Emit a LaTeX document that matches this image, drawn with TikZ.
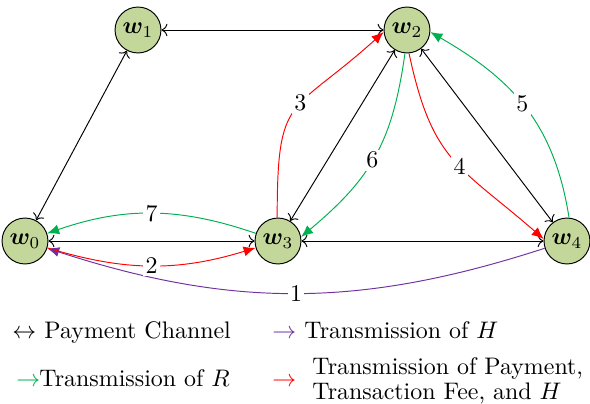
\documentclass[tikz,border=0pt]{standalone}
\usepackage{bm}
\usetikzlibrary{arrows.meta}
\definecolor{nodefill}{HTML}{C4D79B}
\definecolor{cred}{HTML}{FF0000}
\definecolor{cgreen}{HTML}{00B050}
\definecolor{cpurple}{HTML}{7030A0}
\tikzset{
  wnode/.style={circle, draw=black, fill=nodefill, minimum size=19.2pt, inner sep=0pt},
  chan/.style={<->, black},
  redarr/.style={-{Latex[length=5pt,width=4.2pt]}, cred},
  greenarr/.style={-{Latex[length=5pt,width=4.2pt]}, cgreen},
  purparr/.style={-{Latex[length=5pt,width=4.2pt]}, cpurple},
  lbl/.style={fill=white, inner sep=1pt, text=black},
  legtxt/.style={anchor=base west, inner sep=0pt}
}
\begin{document}
\begin{tikzpicture}[x=0.418pt, y=-0.418pt]
\useasboundingbox (0,0) rectangle (590,404);
% nodes
\node[wnode] (w0) at (25,241) {$\bm{w}_0$};
\node[wnode] (w1) at (138,30) {$\bm{w}_1$};
\node[wnode] (w2) at (407,30) {$\bm{w}_2$};
\node[wnode] (w3) at (278,241) {$\bm{w}_3$};
\node[wnode] (w4) at (567,241) {$\bm{w}_4$};
% payment channels
\draw[chan] (w1) -- (w2);
\draw[chan] (w1) -- (w0);
\draw[chan] (w0) -- (w3);
\draw[chan] (w3) -- (w4);
\draw[chan] (w3) -- (w2);
\draw[chan] (w2) -- (w4);
% transmissions
\draw[purparr] (w4) to[bend left=18] node[lbl, pos=0.5] {1} (w0);
\draw[redarr] (w0) to[bend right=17] node[lbl, pos=0.5] {2} (w3);
\draw[redarr] (w3.92) to[out=90, in=222, looseness=1.5] node[lbl, pos=0.55] {3} (w2.185);
\draw[redarr] (w2.-85) to[out=-78, in=139, looseness=1.25] node[lbl, pos=0.55] {4} (w4.175);
\draw[greenarr] (w4.85) to[out=99, in=-30, looseness=1.05] node[lbl, pos=0.52] {5} (w2.-5);
\draw[greenarr] (w2.-95) to[out=262, in=40, looseness=1.1] node[lbl, pos=0.52] {6} (w3.10);
\draw[greenarr] (w3) to[bend right=19] node[lbl, pos=0.5] {7} (w0);
% legend
\node[legtxt] (la) at (12,339) {$\leftrightarrow$};
\node[legtxt] (lat) at (44,339) {Payment Channel};
\node[legtxt, text=cpurple] (lb) at (272,339) {$\rightarrow$};
\node[legtxt] (lbt) at (304,339) {Transmission of $H$};
\node[legtxt, text=cgreen] (lc) at (16,387) {$\rightarrow$};
\node[legtxt] (lct) at (39,387) {Transmission of $R$};
\node[legtxt, text=cred] (ld) at (272,387) {$\rightarrow$};
\node[legtxt] (ldt) at (312,375) {Transmission of Payment,};
\node[legtxt] (ldu) at (312,399) {Transaction Fee, and $H$};
\end{tikzpicture}
\end{document}
